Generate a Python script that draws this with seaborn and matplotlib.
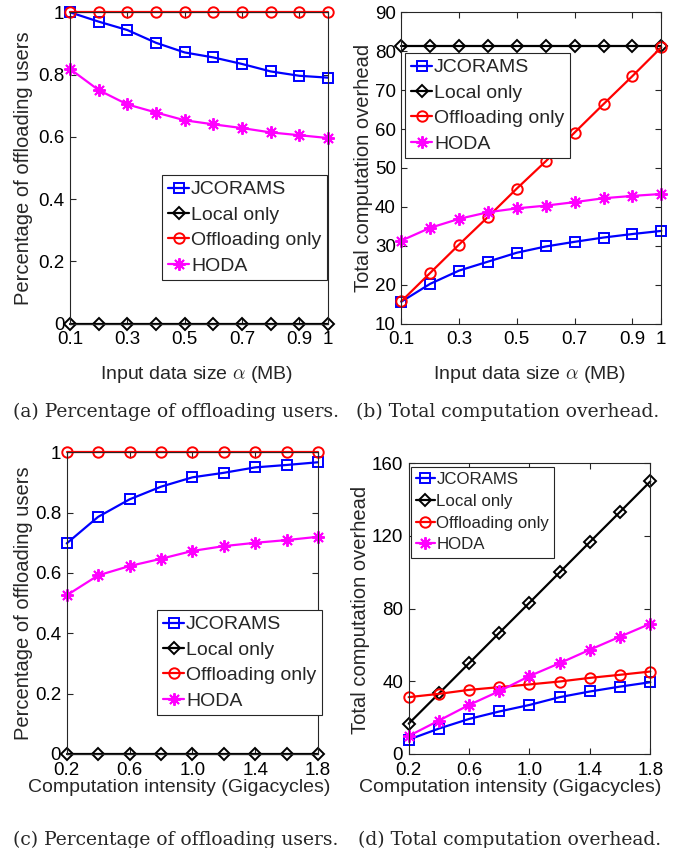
import numpy as np
import pandas as pd
import matplotlib
matplotlib.use("Agg")
import matplotlib.pyplot as plt
import seaborn as sns

# x values
x_size = [0.1, 0.2, 0.3, 0.4, 0.5, 0.6, 0.7, 0.8, 0.9, 1.0]
x_int = [0.2, 0.4, 0.6, 0.8, 1.0, 1.2, 1.4, 1.6, 1.8]

# (a) percentage of offloading users vs input data size
a_jcorams = [1.0, 0.970, 0.943, 0.902, 0.871, 0.855, 0.834, 0.810, 0.796, 0.790]
a_local = [0, 0, 0, 0, 0, 0, 0, 0, 0, 0]
a_offload = [1, 1, 1, 1, 1, 1, 1, 1, 1, 1]
a_hoda = [0.818, 0.750, 0.704, 0.678, 0.653, 0.640, 0.628, 0.614, 0.605, 0.596]

# (b) total computation overhead vs input data size
b_jcorams = [15.6, 20.2, 23.6, 25.9, 28.2, 29.8, 31.0, 32.1, 33.0, 33.8]
b_local = [81.3, 81.3, 81.3, 81.3, 81.3, 81.3, 81.3, 81.3, 81.3, 81.3]
b_offload = [15.7, 23.0, 30.3, 37.4, 44.7, 51.7, 59.1, 66.4, 73.6, 81.0]
b_hoda = [31.3, 34.6, 36.9, 38.6, 39.6, 40.3, 41.2, 42.2, 42.8, 43.3]

# (c) percentage of offloading users vs computation intensity
c_jcorams = [0.698, 0.786, 0.844, 0.886, 0.917, 0.932, 0.950, 0.958, 0.967]
c_local = [0, 0, 0, 0, 0, 0, 0, 0, 0]
c_offload = [1, 1, 1, 1, 1, 1, 1, 1, 1]
c_hoda = [0.526, 0.592, 0.623, 0.647, 0.673, 0.689, 0.700, 0.709, 0.720]

# (d) total computation overhead vs computation intensity
d_jcorams = [7.9, 14.0, 19.3, 23.4, 27.0, 31.3, 34.4, 37.1, 39.5]
d_local = [16.7, 33.3, 50.0, 66.7, 83.3, 100.0, 116.7, 133.3, 150.0]
d_offload = [31.3, 33.1, 35.3, 36.8, 38.3, 39.9, 41.9, 43.6, 45.4]
d_hoda = [9.9, 18.4, 27.0, 34.6, 42.9, 50.0, 57.4, 64.6, 71.7]

names = ["JCORAMS", "Local only", "Offloading only", "HODA"]
colors = ["#0000ff", "#000000", "#ff0000", "#ff00ff"]
markers = ["s", "D", "o", (8, 2, 0)]
msizes = [6.5, 6.5, 7.5, 9]

sns.set_style("ticks")
plt.rcParams["font.family"] = ["Liberation Sans", "DejaVu Sans"]
plt.rcParams["mathtext.fontset"] = "cm"
frame_col = "#262626"

fig = plt.figure(figsize=(6.94, 8.48), dpi=100)

def pos(l, r, t, b):
    return [l / 694, (848 - b) / 848, (r - l) / 694, (b - t) / 848]

def draw(ax, x, series, xlim, ylim, xticks, xticklabels, yticks, yticklabels,
         xlabel, ylabel, leg_xy, leg_fs):
    for name, vals, c, m, ms in zip(names, series, colors, markers, msizes):
        df = pd.DataFrame({"x": x, "y": vals})
        sns.lineplot(data=df, x="x", y="y", ax=ax, color=c, marker=m, markersize=ms,
                     markerfacecolor="none", markeredgecolor=c, markeredgewidth=1.4,
                     linewidth=1.6, label=name, clip_on=False)
    ax.set_xlim(*xlim)
    ax.set_ylim(*ylim)
    ax.set_xticks(xticks)
    ax.set_xticklabels(xticklabels)
    ax.set_yticks(yticks)
    ax.set_yticklabels(yticklabels)
    ax.tick_params(direction="in", length=4, width=0.8, color=frame_col,
                   labelsize=13.5, top=True, right=True, labelcolor="black")
    ax.tick_params(axis="x", pad=5.5)
    ax.tick_params(axis="y", pad=4)
    for s in ax.spines.values():
        s.set_visible(True)
        s.set_color(frame_col)
        s.set_linewidth(0.8)
    ax.set_xlabel(xlabel, fontsize=14)
    ax.set_ylabel(ylabel, fontsize=14.5)
    leg = ax.legend(loc="upper left", bbox_to_anchor=(leg_xy[0] / 694, 1 - leg_xy[1] / 848),
                    bbox_transform=fig.transFigure, fontsize=leg_fs, frameon=True,
                    fancybox=False, framealpha=1, edgecolor=frame_col, borderpad=0.3,
                    labelspacing=0.4, handlelength=1.1, handletextpad=0.1, borderaxespad=0)
    leg.get_frame().set_linewidth(0.8)
    leg.set_zorder(10)

ax_a = fig.add_axes(pos(70, 328, 12.3, 323.5))
ax_b = fig.add_axes(pos(401.3, 661.3, 12.3, 323.5))
ax_c = fig.add_axes(pos(66.7, 318, 452.3, 754))
ax_d = fig.add_axes(pos(408.7, 650.3, 463.3, 754))

size_ticks = [0.1, 0.3, 0.5, 0.7, 0.9, 1.0]
size_labels = ["0.1", "0.3", "0.5", "0.7", "0.9", "1"]
int_ticks = [0.2, 0.6, 1.0, 1.4, 1.8]
int_labels = ["0.2", "0.6", "1.0", "1.4", "1.8"]
pct_ticks = [0, 0.2, 0.4, 0.6, 0.8, 1.0]
pct_labels = ["0", "0.2", "0.4", "0.6", "0.8", "1"]

draw(ax_a, x_size, [a_jcorams, a_local, a_offload, a_hoda], (0.1, 1.0), (0, 1),
     size_ticks, size_labels, pct_ticks, pct_labels,
     r"Input data size $\alpha$ (MB)", "Percentage of offloading users", (162, 175), 14)
draw(ax_b, x_size, [b_jcorams, b_local, b_offload, b_hoda], (0.1, 1.0), (10, 90),
     size_ticks, size_labels, list(range(10, 91, 10)), [str(v) for v in range(10, 91, 10)],
     r"Input data size $\alpha$ (MB)", "Total computation overhead", (405, 53), 14)
draw(ax_c, x_int, [c_jcorams, c_local, c_offload, c_hoda], (0.2, 1.8), (0, 1),
     int_ticks, int_labels, pct_ticks, pct_labels,
     "Computation intensity (Gigacycles)", "Percentage of offloading users", (157, 610), 14)
draw(ax_d, x_int, [d_jcorams, d_local, d_offload, d_hoda], (0.2, 1.8), (0, 160),
     int_ticks, int_labels, [0, 40, 80, 120, 160], ["0", "40", "80", "120", "160"],
     "Computation intensity (Gigacycles)", "Total computation overhead", (411, 467), 12.2)

# label placement (pixel positions converted to axes fractions)
def place_labels(ax, l, r, t, b, xl_cx, xl_top, yl_right, yl_cy):
    w, h = r - l, b - t
    ax.xaxis.set_label_coords((xl_cx - l) / w, (b - xl_top) / h)
    ax.yaxis.set_label_coords((yl_right - l) / w, (b - yl_cy) / h)

place_labels(ax_a, 70, 328, 12.3, 323.5, 197, 364, 33, 168)
place_labels(ax_b, 401.3, 661.3, 12.3, 323.5, 530, 364, 373, 168)
place_labels(ax_c, 66.7, 318, 452.3, 754, 179, 779, 33, 603)
place_labels(ax_d, 408.7, 650.3, 463.3, 754, 510, 779, 370, 610)

cap_kw = dict(family="DejaVu Serif", fontsize=13.5, ha="center", va="center")
fig.text(176 / 694, 1 - 412 / 848, "(a) Percentage of offloading users.", **cap_kw)
fig.text(508 / 694, 1 - 412 / 848, "(b) Total computation overhead.", **cap_kw)
fig.text(176 / 694, 1 - 840 / 848, "(c) Percentage of offloading users.", **cap_kw)
fig.text(510 / 694, 1 - 840 / 848, "(d) Total computation overhead.", **cap_kw)

fig.savefig("out.png", dpi=100)
